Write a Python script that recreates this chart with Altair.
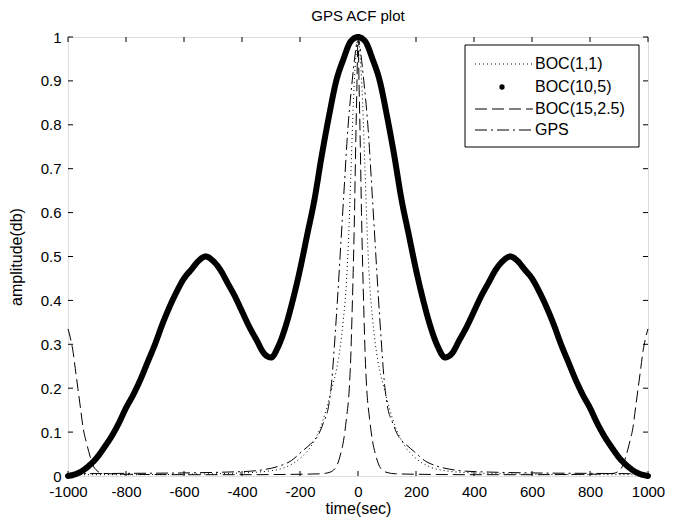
import altair as alt
import pandas as pd

chart_title = "GPS ACF plot"
x_title = "time(sec)"
y_title = "amplitude(db)"
series_names = ["BOC(1,1)", "BOC(10,5)", "BOC(15,2.5)", "GPS"]
x_ticks = [-1000, -800, -600, -400, -200, 0, 200, 400, 600, 800, 1000]
y_ticks = [0, 0.1, 0.2, 0.3, 0.4, 0.5, 0.6, 0.7, 0.8, 0.9, 1]

# BOC(1,1) - dotted
t_boc11 = [-1000, -800, -600, -400, -300, -250, -200, -160, -130, -110, -90, -75, -60, -50, -40, -32, -24, -16, -8,
           0, 8, 16, 24, 32, 40, 50, 60, 75, 90, 110, 130, 160, 200, 250, 300, 400, 600, 800, 1000]
v_boc11 = [0.003, 0.003, 0.004, 0.007, 0.012, 0.02, 0.04, 0.07, 0.11, 0.15, 0.2, 0.24, 0.3, 0.36, 0.44, 0.55, 0.7, 0.85, 0.95,
           1.0, 0.95, 0.85, 0.7, 0.55, 0.44, 0.36, 0.3, 0.24, 0.2, 0.15, 0.11, 0.07, 0.04, 0.02, 0.012, 0.007, 0.004, 0.003, 0.003]

# BOC(10,5) - heavy dotted markers
t_boc105 = list(range(-1000, 1001, 25))
v_boc105 = [0.0, 0.004, 0.012, 0.025, 0.042, 0.065, 0.09, 0.12, 0.155, 0.185, 0.22, 0.26, 0.3, 0.345, 0.385, 0.42,
            0.45, 0.47, 0.49, 0.5, 0.49, 0.47, 0.44, 0.41, 0.375, 0.34, 0.31, 0.28, 0.27, 0.295, 0.34, 0.4, 0.47,
            0.55, 0.63, 0.73, 0.82, 0.9, 0.95, 0.99,
            1.0,
            0.99, 0.95, 0.9, 0.82, 0.73, 0.63, 0.55, 0.47, 0.4, 0.34, 0.295, 0.27, 0.28, 0.31, 0.34, 0.375, 0.41,
            0.44, 0.47, 0.49, 0.5, 0.49, 0.47, 0.45, 0.42, 0.385, 0.345, 0.3, 0.26, 0.22, 0.185, 0.155, 0.12, 0.09,
            0.065, 0.042, 0.025, 0.012, 0.004, 0.0]

# BOC(15,2.5) - dashed
t_boc15 = [-1000, -992, -983, -975, -966, -957, -948, -936, -924, -914, -900, -880, -800, -600, -400, -200, -130, -100,
           -85, -72, -60, -50, -40, -30, -25, -20, -16, -12, -8, -4,
           0, 4, 8, 12, 16, 20, 25, 30, 40, 50, 60, 72, 85, 100, 130, 200, 400, 600, 800, 880, 900, 914, 924, 936,
           948, 957, 966, 975, 983, 992, 1000]
v_boc15 = [0.335, 0.315, 0.285, 0.245, 0.2, 0.155, 0.11, 0.075, 0.045, 0.025, 0.012, 0.006, 0.004, 0.003, 0.003, 0.004,
           0.005, 0.008, 0.013, 0.025, 0.05, 0.08, 0.13, 0.2, 0.27, 0.38, 0.48, 0.6, 0.75, 0.88,
           1.0, 0.88, 0.75, 0.6, 0.48, 0.38, 0.27, 0.2, 0.13, 0.08, 0.05, 0.025, 0.013, 0.008, 0.005, 0.004, 0.003,
           0.003, 0.004, 0.006, 0.012, 0.025, 0.045, 0.075, 0.11, 0.155, 0.2, 0.245, 0.285, 0.315, 0.335]

# GPS - dash-dot
t_gps = [-1000, -800, -600, -450, -370, -320, -270, -230, -195, -165, -140, -120, -100, -90, -80, -70, -60, -50, -35,
         -20, -10, 0, 10, 20, 35, 50, 60, 70, 80, 90, 100, 120, 140, 165, 195, 230, 270, 320, 370, 450, 600, 800, 1000]
v_gps = [0.005, 0.006, 0.007, 0.009, 0.011, 0.015, 0.023, 0.035, 0.055, 0.072, 0.09, 0.12, 0.165, 0.22, 0.31, 0.41,
         0.52, 0.63, 0.79, 0.9, 0.96, 1.0, 0.96, 0.9, 0.79, 0.63, 0.52, 0.41, 0.31, 0.22, 0.165, 0.12, 0.09, 0.072,
         0.055, 0.035, 0.023, 0.015, 0.011, 0.009, 0.007, 0.006, 0.005]

FONT = "Liberation Sans"
W, H = 580, 439

xs = alt.Scale(domain=[-1000, 1000], nice=False, zero=False)
ys = alt.Scale(domain=[0, 1], nice=False)


def line_layer(t, v, dash, width):
    df = pd.DataFrame({"t": t, "v": v})
    return alt.Chart(df).mark_line(color="black", strokeWidth=width, strokeDash=dash, interpolate="monotone",
                                   strokeCap="round" if width > 2 else "butt").encode(
        x=alt.X("t:Q", scale=xs,
                axis=alt.Axis(values=x_ticks, labelExpr="datum.value + ''", ticks=False, domain=False,
                              grid=False, labelFontSize=15, labelFont=FONT, labelColor="black",
                              labelPadding=8, labelFlush=False, labelOverlap=False, title=x_title,
                              titleFont=FONT, titleFontSize=16, titleFontWeight="normal",
                              titleColor="black", titlePadding=1)),
        y=alt.Y("v:Q", scale=ys,
                axis=alt.Axis(values=y_ticks, format=".1~f", ticks=False, domain=False, grid=False,
                              labelFontSize=15, labelFont=FONT, labelColor="black", labelPadding=7,
                              labelFlush=False, labelOverlap=False, title=y_title, titleFont=FONT,
                              titleFontSize=16, titleFontWeight="normal", titleColor="black",
                              titlePadding=16)),
    )


DOT = [1, 3]
DASH = [12, 5]
DASHDOT = [12, 4, 2, 4]

layers = [
    line_layer(t_boc11, v_boc11, DOT, 1),
    line_layer(t_boc105, v_boc105, [1, 0], 6),
    line_layer(t_boc15, v_boc15, DASH, 1),
    line_layer(t_gps, v_gps, DASHDOT, 1),
]

# inward tick marks on all four sides (MATLAB box)
xt = pd.DataFrame({"t": x_ticks})
yt = pd.DataFrame({"v": y_ticks})
layers += [
    alt.Chart(xt).mark_rule(color="black").encode(x=alt.X("t:Q", scale=xs), y=alt.value(H), y2=alt.value(H - 5)),
    alt.Chart(xt).mark_rule(color="black").encode(x=alt.X("t:Q", scale=xs), y=alt.value(0), y2=alt.value(5)),
    alt.Chart(yt).mark_rule(color="black").encode(y=alt.Y("v:Q", scale=ys), x=alt.value(0), x2=alt.value(5)),
    alt.Chart(yt).mark_rule(color="black").encode(y=alt.Y("v:Q", scale=ys), x=alt.value(W), x2=alt.value(W - 5)),
]

# legend box
one = pd.DataFrame({"a": [0]})
LX0, LX1, LY0, LY1 = 397, 571, 8, 110
layers.append(alt.Chart(one).mark_rect(fill="white", stroke="black", strokeWidth=1).encode(
    x=alt.value(LX0), x2=alt.value(LX1), y=alt.value(LY0), y2=alt.value(LY1)))
row_y = [27, 50, 72, 93]
dashes = [DOT, None, DASH, DASHDOT]
for name, ry, d in zip(series_names, row_y, dashes):
    if d is None:
        layers.append(alt.Chart(one).mark_circle(color="black", size=28, opacity=1).encode(
            x=alt.value(434), y=alt.value(ry)))
    else:
        layers.append(alt.Chart(one).mark_rule(color="black", strokeWidth=1, strokeDash=d).encode(
            x=alt.value(407), x2=alt.value(465), y=alt.value(ry)))
    layers.append(alt.Chart(one).mark_text(text=name, align="left", baseline="middle", font=FONT,
                                           fontSize=16, color="black").encode(
        x=alt.value(467), y=alt.value(ry)))

chart = alt.layer(*layers).properties(
    width=W, height=H,
    title=alt.TitleParams(chart_title, font=FONT, fontSize=15, fontWeight="normal", color="black",
                          anchor="middle", offset=1),
    autosize=alt.AutoSizeParams(type="none"),
    padding={"left": 60, "top": 29, "right": 20, "bottom": 45},
).configure_view(stroke="black", strokeWidth=1, fill="white").configure(background="white")

chart.save("out.html", embed_options={"renderer": "svg", "actions": False})
